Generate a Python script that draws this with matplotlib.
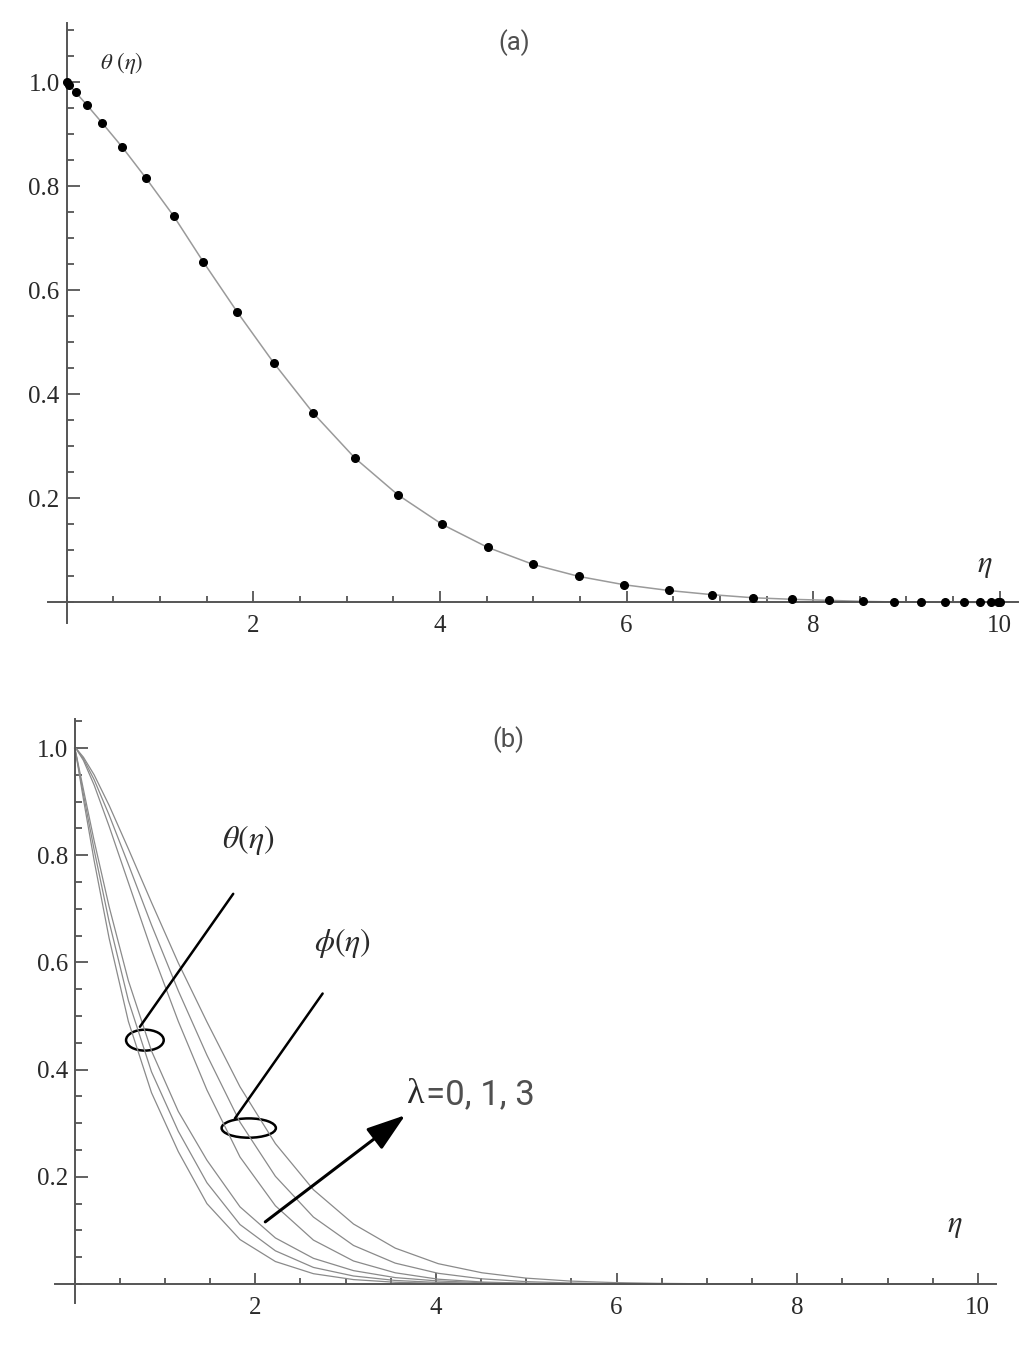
import matplotlib
matplotlib.use("Agg")
import matplotlib.pyplot as plt
from matplotlib.ticker import FixedLocator, MultipleLocator
from matplotlib.patches import Ellipse

plt.rcParams['font.family'] = ['Liberation Serif', 'DejaVu Serif']
plt.rcParams['mathtext.fontset'] = 'stix'

# (a) collocation points and theta values
eta_a = [0.0, 0.024, 0.096, 0.215, 0.381, 0.594, 0.850, 1.147, 1.464, 1.830, 2.222,
         2.643, 3.087, 3.549, 4.025, 4.510, 5.000, 5.490, 5.975, 6.451, 6.913, 7.357,
         7.778, 8.172, 8.536, 8.865, 9.157, 9.410, 9.619, 9.785, 9.904, 9.976, 10.0]
theta_a = [1.0, 0.996, 0.981, 0.957, 0.922, 0.876, 0.816, 0.743, 0.655, 0.558, 0.460,
           0.364, 0.278, 0.207, 0.150, 0.106, 0.073, 0.050, 0.034, 0.023, 0.015, 0.009,
           0.006, 0.004, 0.002, 0.001, 0.0005, 0.0003, 0.0002, 0.0001, 0.0, 0.0, 0.0]

# (b) same nodes, theta and phi for lambda = 0, 1, 3
eta_b = eta_a
theta_l0 = [1.0, 0.978, 0.905, 0.790, 0.645, 0.490, 0.357, 0.247, 0.150, 0.083, 0.042,
            0.0193, 0.0083, 0.0033, 0.0013, 0.0005, 0.0002, 0.0001, 0, 0, 0, 0,
            0, 0, 0, 0, 0, 0, 0, 0, 0, 0, 0]
theta_l1 = [1.0, 0.980, 0.914, 0.810, 0.676, 0.529, 0.396, 0.285, 0.189, 0.111, 0.062,
            0.031, 0.015, 0.0067, 0.0029, 0.0012, 0.0005, 0.0002, 0.0001, 0, 0, 0,
            0, 0, 0, 0, 0, 0, 0, 0, 0, 0, 0]
theta_l3 = [1.0, 0.982, 0.923, 0.827, 0.704, 0.566, 0.435, 0.322, 0.231, 0.144, 0.086,
            0.048, 0.025, 0.012, 0.0057, 0.0026, 0.0012, 0.0006, 0.0003, 0.0001, 0, 0,
            0, 0, 0, 0, 0, 0, 0, 0, 0, 0, 0]
phi_l0 = [1.0, 0.9965, 0.977, 0.931, 0.854, 0.749, 0.623, 0.490, 0.362, 0.237, 0.146,
          0.082, 0.043, 0.021, 0.009, 0.0038, 0.0015, 0.0006, 0.0002, 0.0001, 0, 0,
          0, 0, 0, 0, 0, 0, 0, 0, 0, 0, 0]
phi_l1 = [1.0, 0.997, 0.980, 0.941, 0.875, 0.783, 0.670, 0.547, 0.427, 0.302, 0.201,
          0.125, 0.072, 0.039, 0.020, 0.0097, 0.0045, 0.0020, 0.0009, 0.0004, 0.0002, 0.0001,
          0, 0, 0, 0, 0, 0, 0, 0, 0, 0, 0]
phi_l3 = [1.0, 0.9975, 0.983, 0.950, 0.893, 0.812, 0.712, 0.599, 0.489, 0.368, 0.262,
          0.176, 0.112, 0.067, 0.038, 0.021, 0.011, 0.0055, 0.0027, 0.0013, 0.0006, 0.0003,
          0.0001, 0, 0, 0, 0, 0, 0, 0, 0, 0, 0]

xticks = [2, 4, 6, 8, 10]
yticks = [0.2, 0.4, 0.6, 0.8, 1.0]

axis_col = '#555555'
txt_col = '#2a2a2a'
label_col = '#505050'


def style_axes(ax):
    for s in ['top', 'right']:
        ax.spines[s].set_visible(False)
    for s in ['left', 'bottom']:
        ax.spines[s].set_position(('data', 0))
        ax.spines[s].set_color(axis_col)
        ax.spines[s].set_linewidth(1.4)
    ax.xaxis.set_major_locator(FixedLocator(xticks))
    ax.yaxis.set_major_locator(FixedLocator(yticks))
    ax.xaxis.set_minor_locator(MultipleLocator(0.5))
    ax.yaxis.set_minor_locator(MultipleLocator(0.05))
    ax.set_xticklabels([str(t) for t in xticks])
    ax.set_yticklabels(['%.1f' % t for t in yticks])
    ax.tick_params(which='both', direction='in', color=axis_col, width=1.3,
                   labelsize=18, labelcolor=txt_col)
    ax.tick_params(axis='x', which='major', length=8, pad=9)
    ax.tick_params(axis='x', which='minor', length=4.5)
    ax.tick_params(axis='y', which='major', length=9, pad=5)
    ax.tick_params(axis='y', which='minor', length=5)
    ax.patch.set_visible(False)


fig = plt.figure(figsize=(10.35, 13.49), dpi=100)

# ---- panel (a)
ax1 = fig.add_axes([0.0464, 0.5380, 0.9376, 0.4452])
ax1.set_xlim(-0.2, 10.2)
ax1.set_ylim(-0.04, 1.115)
style_axes(ax1)
ax1.plot(eta_a, theta_a, color='#9a9a9a', lw=1.1, zorder=2)
ax1.plot(eta_a, theta_a, 'o', color='black', ms=5.5, zorder=3, clip_on=False)
ax1.text(0.59, 1.037, r'$\theta\ (\eta)$', fontsize=16.5, color=txt_col, ha='center', va='center')
ax1.text(4.8, 1.076, '(a)', fontsize=18.5, color=label_col, ha='center', va='center',
         family=['Roboto', 'DejaVu Sans'])
ax1.text(9.84, 0.072, r'$\eta$', fontsize=22, color=txt_col, ha='center', va='center')

# ---- panel (b)
ax2 = fig.add_axes([0.0530, 0.03425, 0.9092, 0.4331])
ax2.set_xlim(-0.22, 10.2)
ax2.set_ylim(-0.035, 1.055)
style_axes(ax2)
for ys in [theta_l0, theta_l1, theta_l3, phi_l0, phi_l1, phi_l3]:
    ax2.plot(eta_b, ys, color='#8a8a8a', lw=0.9)

ax2.add_patch(Ellipse((0.777, 0.455), 0.417, 0.039, fill=False, ec='black', lw=1.8))
ax2.add_patch(Ellipse((1.927, 0.291), 0.601, 0.036, fill=False, ec='black', lw=1.8))
ax2.annotate('', xy=(1.755, 0.728), xytext=(0.722, 0.480),
             arrowprops=dict(arrowstyle='-', color='black', lw=1.8, shrinkA=0, shrinkB=0))
ax2.annotate('', xy=(2.745, 0.542), xytext=(1.774, 0.309),
             arrowprops=dict(arrowstyle='-', color='black', lw=1.8, shrinkA=0, shrinkB=0))
ax2.annotate('', xy=(3.66, 0.315), xytext=(2.11, 0.116),
             arrowprops=dict(arrowstyle='-|>,head_length=1.2,head_width=0.4', color='black',
                             lw=2.2, shrinkA=0, shrinkB=0, mutation_scale=20))

ax2.text(1.92, 0.828, r'$\theta(\eta)$', fontsize=23, color=txt_col, ha='center', va='center')
ax2.text(2.97, 0.636, r'$\phi(\eta)$', fontsize=23, color=txt_col, ha='center', va='center')
ax2.text(3.68, 0.353, 'λ', fontsize=26, color=txt_col, ha='left', va='center')
ax2.text(3.89, 0.353, '=0, 1, 3', fontsize=25, color=label_col, ha='left', va='center',
         family=['Roboto', 'DejaVu Sans'])
ax2.text(4.8, 1.015, '(b)', fontsize=18.5, color=label_col, ha='center', va='center',
         family=['Roboto', 'DejaVu Sans'])
ax2.text(9.75, 0.11, r'$\eta$', fontsize=22, color=txt_col, ha='center', va='center')

fig.savefig('out.png', dpi=100)
